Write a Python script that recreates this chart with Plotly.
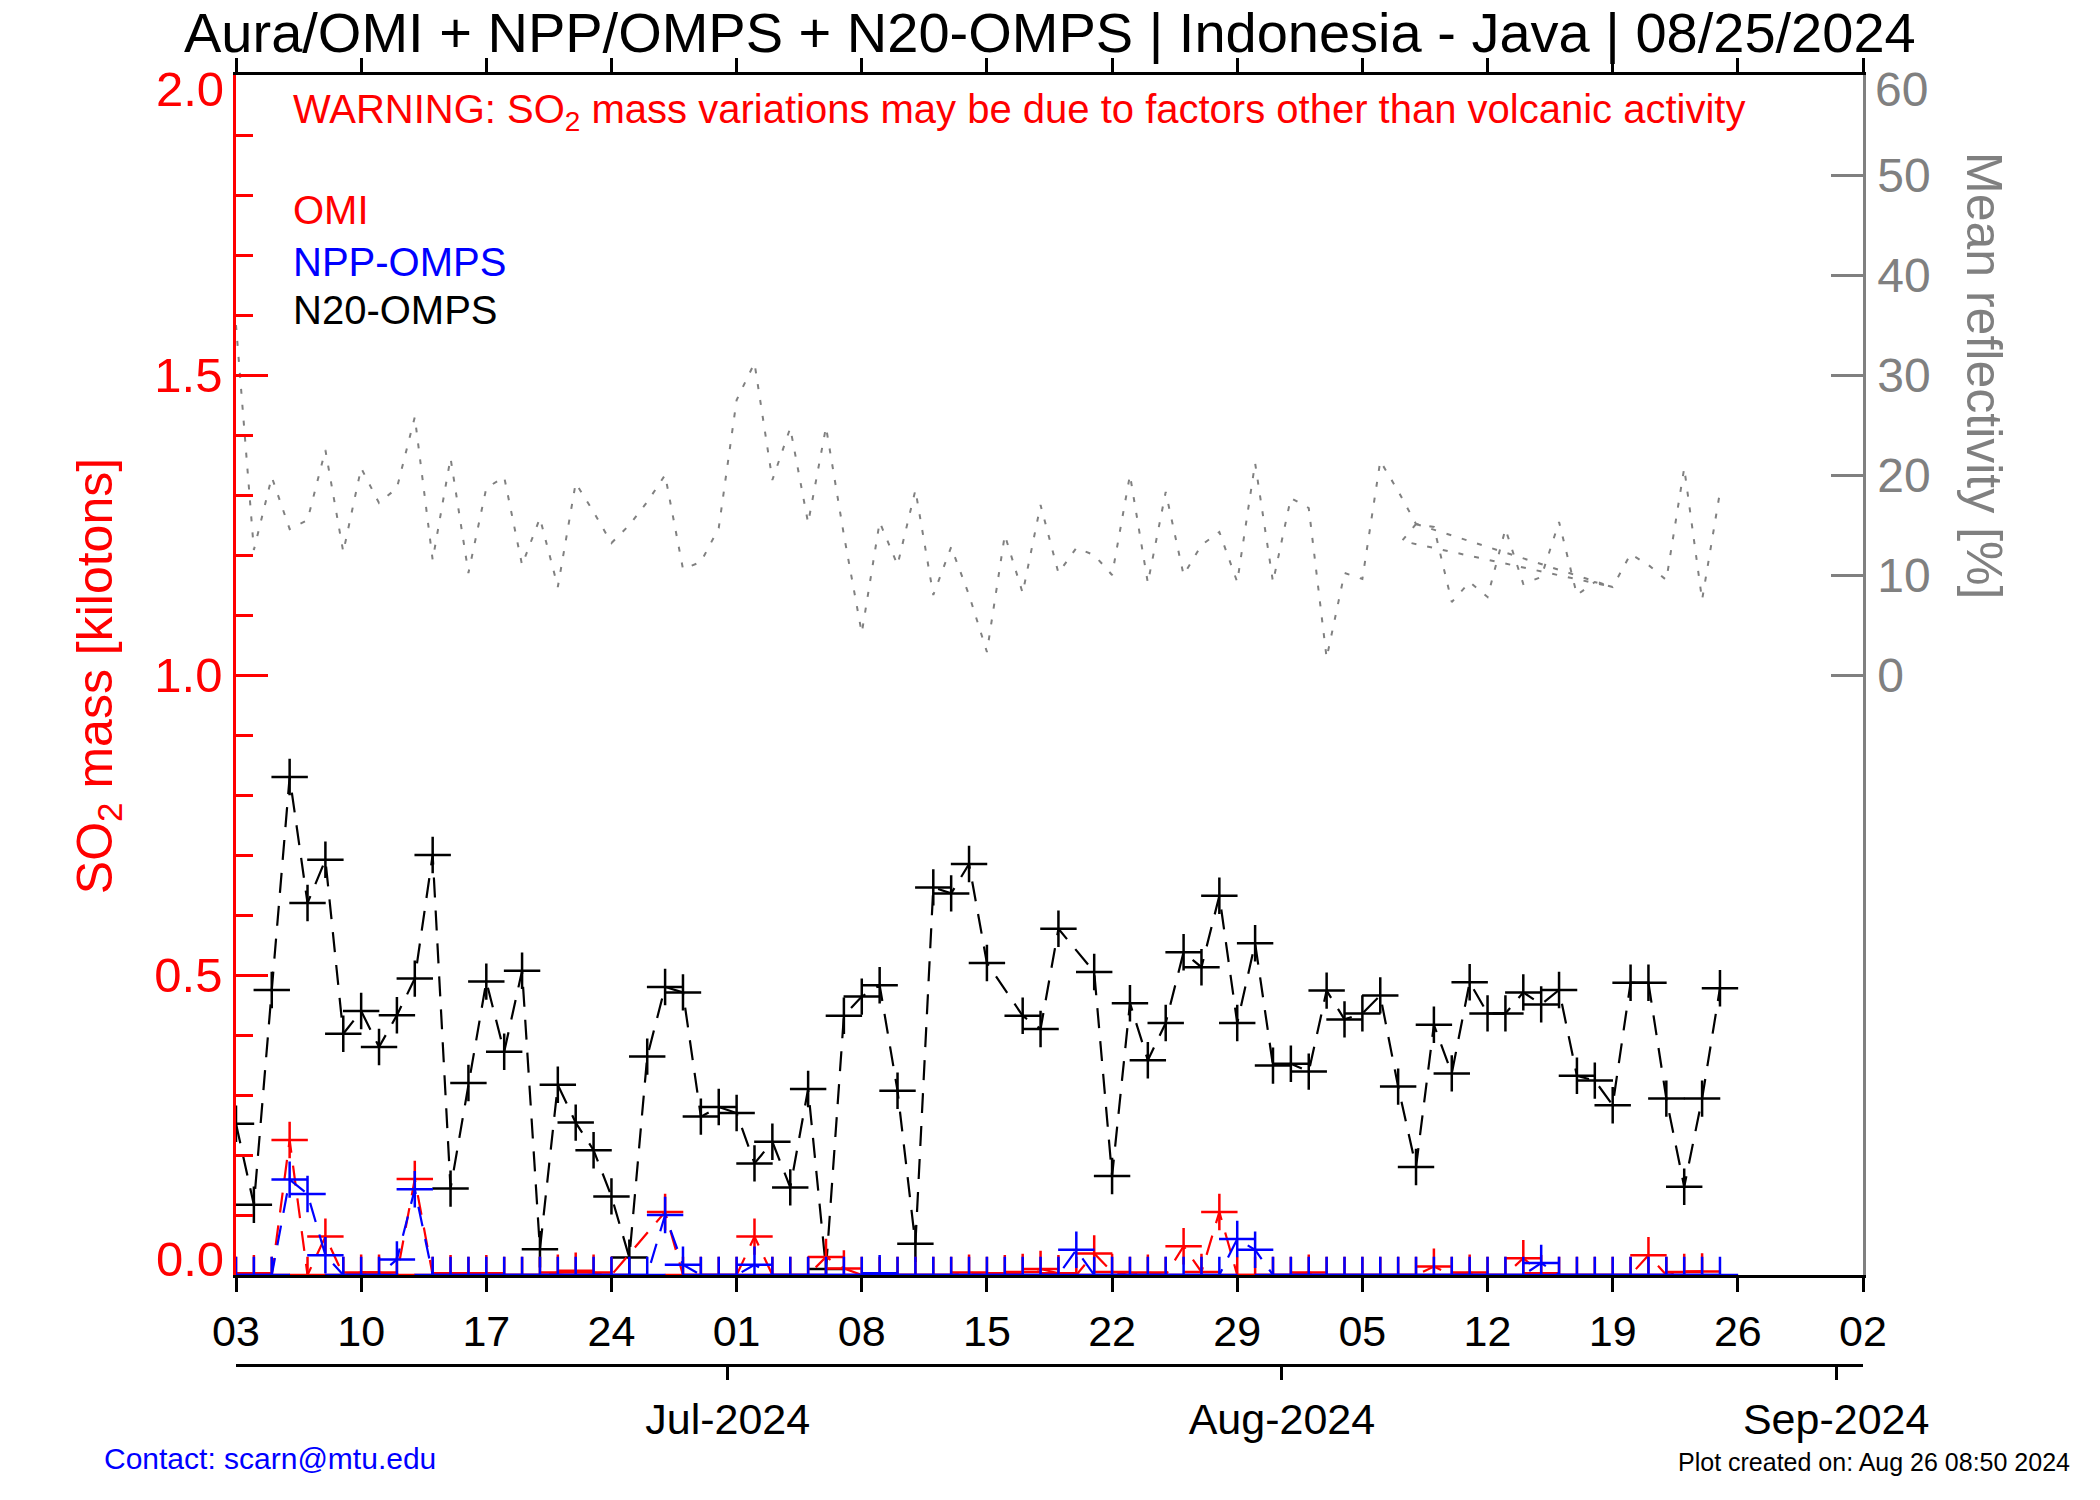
import plotly.graph_objects as go
import pandas as pd

# ---------------- data ----------------
start_date = "2024-06-03"
end_date = "2024-09-02"
dates = pd.date_range(start_date, periods=84, freq="D")  # Jun 03 .. Aug 25

n20_so2 = [0.252, 0.117, 0.475, 0.83, 0.62, 0.692, 0.402, 0.44, 0.38, 0.433,
           0.494, 0.70, 0.144, 0.32, 0.489, 0.372, 0.507, 0.043, 0.317, 0.254,
           0.208, 0.131, 0.029, 0.364, 0.48, 0.471, 0.264, 0.28, 0.27, 0.186,
           0.222, 0.146, 0.31, 0.01, 0.432, 0.464, 0.483, 0.307, 0.052, 0.646,
           0.636, 0.685, 0.52, None, 0.432, 0.41, 0.577, None, 0.505, 0.165,
           0.453, 0.358, 0.42, 0.538, 0.513, 0.632, 0.42, 0.553, 0.349, 0.352,
           0.339, 0.474, 0.426, 0.436, 0.466, 0.314, 0.18, 0.417, 0.336, 0.488,
           0.436, 0.436, 0.471, 0.451, 0.475, 0.332, 0.324, 0.283, 0.487, 0.487,
           0.294, 0.147, 0.294, 0.478]

omi_so2 = [0.0, 0.003, 0.0, 0.225, 0.0, 0.064, 0.0, 0.004, 0.004, 0.0,
           0.16, 0.0, 0.003, 0.0, 0.003, 0.0, 0.0, 0.0, 0.004, 0.007,
           0.004, 0.0, None, None, 0.105, 0.0, 0.0, 0.0, 0.0, 0.064,
           0.0, 0.0, 0.0, 0.03, 0.011, 0.0, 0.0, 0.0, 0.0, 0.0,
           0.0, 0.004, 0.0, 0.003, 0.005, 0.01, 0.003, 0.0, 0.036, 0.005,
           0.0, 0.004, 0.0, 0.048, 0.005, 0.105, 0.0, 0.0, 0.0, 0.0,
           0.004, 0.0, 0.0, 0.0, 0.0, 0.0, 0.0, 0.014, 0.0, 0.004,
           0.0, 0.0, 0.028, 0.003, 0.0, 0.0, 0.0, 0.0, 0.0, 0.033,
           0.0, 0.005, 0.006, None]

npp_so2 = [0.0, 0.0, 0.0, 0.159, 0.135, 0.033, 0.0, 0.0, 0.0, 0.026,
           0.143, 0.0, 0.0, 0.0, 0.0, 0.0, 0.0, 0.0, 0.0, 0.0,
           0.0, 0.0, 0.0, 0.0, 0.1, 0.017, 0.0, 0.0, 0.0, 0.017,
           0.0, 0.0, 0.0, 0.0, 0.0, 0.0, 0.003, 0.0, 0.0, 0.0,
           0.0, 0.0, 0.0, 0.0, 0.0, 0.0, 0.0, 0.042, 0.0, 0.0,
           0.0, 0.0, 0.0, 0.0, 0.0, 0.0, 0.06, 0.042, 0.0, 0.0,
           0.0, 0.0, 0.0, 0.0, 0.0, 0.0, 0.0, 0.0, 0.0, 0.0,
           0.0, 0.0, 0.0, 0.02, 0.0, 0.0, 0.0, 0.0, 0.0, 0.0,
           0.0, 0.0, 0.0, 0.0]

reflectivity = [35.0, 12.5, 19.8, 14.6, 15.5, 22.5, 12.3, 20.7, 17.2, 18.7,
                25.8, 11.5, 21.7, 10.2, 18.7, 19.8, 11.0, 15.7, 8.8, 19.2,
                16.3, 13.2, 15.0, 17.3, 20.0, 10.6, 11.3, 14.7, 27.5, 31.2,
                19.5, 24.7, 15.2, 24.8, 14.0, 4.2, 15.3, 11.0, 18.5, 8.0,
                12.8, 8.0, 2.3, 14.0, 8.2, 17.0, 10.2, 12.7, 12.0, 10.0,
                20.0, 9.2, 18.3, 10.0, 13.0, 14.3, 9.3, 21.2, 9.3, 17.7,
                16.7, 1.7, 10.2, 9.6, 21.4, 18.4, 15.1, 14.8, 7.3, 9.3,
                7.8, 14.6, 9.1, 9.8, 15.3, 8.0, 9.3, 8.8, 12.1, 11.0,
                9.5, 20.7, 7.5, 18.3]

refl_b_x = ["2024-08-08", "2024-08-19"]
refl_b_y = [15.1, 8.8]
refl_c_x = ["2024-08-08", "2024-08-07 05:00", "2024-08-19"]
refl_c_y = [15.1, 13.4, 8.8]

day_ticks = pd.date_range(start_date, end_date, freq="7D")
day_labels = ["03", "10", "17", "24", "01", "08", "15", "22", "29", "05",
              "12", "19", "26", "02"]
month_ticks = ["2024-06-30 12:00", "2024-07-31 12:00", "2024-08-31 12:00"]
month_labels = ["Jul-2024", "Aug-2024", "Sep-2024"]
so2_ticks = [0.0, 0.5, 1.0, 1.5, 2.0]
so2_labels = ["", "0.5", "1.0", "1.5", ""]          # end labels drawn inset below
so2_minor = [0.1, 0.2, 0.3, 0.4, 0.6, 0.7, 0.8, 0.9, 1.1, 1.2, 1.3, 1.4,
             1.6, 1.7, 1.8, 1.9]
refl_ticks = [0, 10, 20, 30, 40, 50, 60]
refl_labels = ["0", "10", "20", "30", "40", "50", ""]  # top label drawn inset

# ---------------- figure ----------------
FONT = "Liberation Sans, Arial, Helvetica, sans-serif"
GRAY = "#808080"
W, H = 2100, 1500

fig = go.Figure()

for xs, ys in [(dates, reflectivity), (refl_b_x, refl_b_y), (refl_c_x, refl_c_y)]:
    fig.add_trace(go.Scatter(
        x=xs, y=ys, yaxis="y2", mode="lines",
        line=dict(color=GRAY, width=2, dash="5px,11px"),
        hoverinfo="skip"))

for vals, col in [(n20_so2, "black"), (omi_so2, "red"), (npp_so2, "blue")]:
    fig.add_trace(go.Scatter(
        x=dates, y=vals, mode="lines+markers", connectgaps=True,
        line=dict(color=col, width=2.2, dash="20px,13px"),
        marker=dict(symbol="cross-thin", size=26, color=col,
                    line=dict(color=col, width=2.5))))

# empty trace that attaches the month axis
fig.add_trace(go.Scatter(x=month_ticks, y=[None] * len(month_ticks),
                         xaxis="x2", yaxis="y", mode="lines",
                         hoverinfo="skip", showlegend=False))

fig.update_layout(
    width=W, height=H,
    margin=dict(l=236, r=237, t=75, b=135),
    paper_bgcolor="white", plot_bgcolor="white",
    showlegend=False,
    font=dict(family=FONT, color="black"),
    xaxis=dict(
        type="date", range=[start_date, end_date],
        tickmode="array", tickvals=day_ticks, ticktext=day_labels,
        ticks="outside", ticklen=14, tickwidth=2.5, tickcolor="black",
        showline=True, linecolor="black", linewidth=2.5, mirror="ticks",
        showgrid=False, zeroline=False, tickfont=dict(size=43, color="black"),
        anchor="y", layer="below traces", ticklabelstandoff=3),
    xaxis2=dict(
        type="date", range=[start_date, end_date], overlaying="x",
        anchor="free", position=0, side="bottom",
        tickmode="array", tickvals=month_ticks, ticktext=month_labels,
        ticks="outside", ticklen=13, tickwidth=2.5, tickcolor="black",
        showline=True, linecolor="black", linewidth=2.5,
        showgrid=False, zeroline=False, tickfont=dict(size=43, color="black"),
        ticklabelstandoff=3),
    yaxis=dict(
        domain=[0.06977, 1], range=[0, 2],
        tickmode="array", tickvals=so2_ticks, ticktext=so2_labels,
        ticks="inside", ticklen=32, tickwidth=2.5, tickcolor="red",
        showline=True, linecolor="red", linewidth=2.5,
        showgrid=False, zeroline=False, tickfont=dict(size=49, color="red"),
        minor=dict(tickmode="array", tickvals=so2_minor, ticks="inside",
                   ticklen=17, tickwidth=2.5, tickcolor="red"),
        ticklabelstandoff=1),
    yaxis2=dict(
        overlaying="y", side="right", anchor="x", range=[-60, 60],
        tickmode="array", tickvals=refl_ticks, ticktext=refl_labels,
        ticks="inside", ticklen=32, tickwidth=2.5, tickcolor=GRAY,
        showline=True, linecolor=GRAY, linewidth=2.5,
        showgrid=False, zeroline=False, tickfont=dict(size=48, color=GRAY),
        ticklabelstandoff=2),
)

ann = [
    dict(text="Aura/OMI + NPP/OMPS + N20-OMPS | Indonesia - Java | 08/25/2024",
         x=0.5, y=1.0326, xanchor="center", font=dict(size=56, color="black")),
    dict(text="WARNING: SO<sub>2</sub> mass variations may be due to factors other than volcanic activity",
         x=0.0338, y=0.9713, xanchor="left", font=dict(size=40, color="red")),
    dict(text="OMI", x=0.0338, y=0.8953, xanchor="left", font=dict(size=40, color="red")),
    dict(text="NPP-OMPS", x=0.0338, y=0.855, xanchor="left", font=dict(size=40, color="blue")),
    dict(text="N20-OMPS", x=0.0338, y=0.8178, xanchor="left", font=dict(size=40, color="black")),
    dict(text="SO<sub>2</sub> mass [kilotons]", x=-0.0848, y=0.534, xanchor="center",
         textangle=-90, font=dict(size=50, color="red")),
    dict(text="Mean reflectivity [%]", x=1.0744, y=0.7674, xanchor="center",
         textangle=90, font=dict(size=50, color=GRAY)),
    dict(text="Contact: scarn@mtu.edu", x=-0.0823, y=-0.0721, xanchor="left",
         font=dict(size=30, color="blue")),
    dict(text="Plot created on: Aug 26 08:50 2024", x=1.1285, y=-0.0752, xanchor="right",
         font=dict(size=25, color="black")),
]
for a in ann:
    fig.add_annotation(xref="paper", yref="paper", yanchor="middle",
                       showarrow=False, **a)

# inset end labels of the two value axes
fig.add_annotation(text="0.0", xref="paper", yref="y", x=-0.006, y=0.0, yshift=16,
                   xanchor="right", yanchor="middle", showarrow=False,
                   font=dict(size=49, color="red"))
fig.add_annotation(text="2.0", xref="paper", yref="y", x=-0.006, y=2.0, yshift=-14,
                   xanchor="right", yanchor="middle", showarrow=False,
                   font=dict(size=49, color="red"))
fig.add_annotation(text="60", xref="paper", yref="y2", x=1.006, y=60, yshift=-14,
                   xanchor="left", yanchor="middle", showarrow=False,
                   font=dict(size=48, color=GRAY))

fig.write_html("out.html", config={"displayModeBar": False},
               post_script="document.body.style.margin='0px';")
